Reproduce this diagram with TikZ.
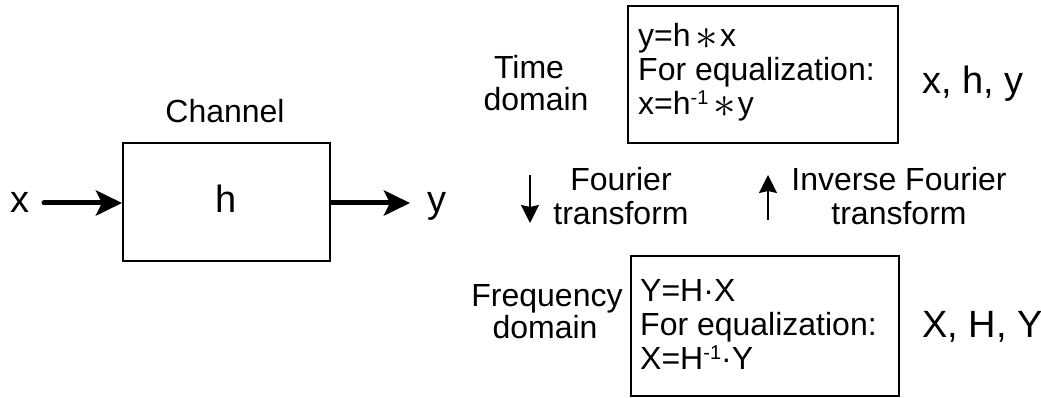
\documentclass[tikz,border=0pt]{standalone}
\usepackage{fix-cm}
\usepackage{fontspec}
\setmainfont{Liberation Sans}
\usetikzlibrary{arrows.meta}

% centred convolution star and a small raised "-1"
\newcommand{\convstar}{\hspace{5pt}\smash{\raisebox{-3pt}{\fontsize{45}{45}\selectfont$\ast$}}\hspace{2pt}}
\newcommand{\invexp}{\smash{\raisebox{10pt}{\fontsize{20}{20}\selectfont -1}}}

\begin{document}
\begin{tikzpicture}[x=1pt,y=-1pt,
  txt/.style={inner sep=0pt,font=\fontsize{32}{36}\selectfont},
  big/.style={inner sep=0pt,font=\fontsize{38}{42}\selectfont},
  frame/.style={draw,line width=2pt,inner sep=0pt},
  thick arrow/.style={line width=5pt,-{Stealth[length=26pt,width=25pt,inset=6pt]}},
  thin arrow/.style={line width=1.8pt,-{Stealth[length=18pt,width=18pt,inset=2pt]}}]
\useasboundingbox (0,0) rectangle (1041,398);

% channel block
\node[frame,minimum width=207pt,minimum height=118pt] (chan) at (226.5,202) {};
\node[txt,anchor=base] (chanlbl) at (225,123) {Channel};
\node[big,anchor=base] (h) at (chan.center |- 0,212) {h};
\node[big,anchor=base] (xin) at (20,212) {x};
\node[big,anchor=base] (yout) at (437,212) {y};
\coordinate (xs) at (44,203);
\coordinate (ye) at (410,203);
\draw[thick arrow,line cap=round] (xs) -- (chan.west |- xs);
\draw[thick arrow] (chan.east |- ye) -- (ye);

% time domain block
\node[frame,minimum width=270pt,minimum height=137pt] (tbox) at (763,74.5) {};
\node[txt,anchor=base west] (t1) at (638,47) {y=h\convstar x};
\node[txt,anchor=base west] (t2) at (638,81) {For equalization:};
\node[txt,anchor=base west] (t3) at (638,115) {x=h\invexp\convstar y};
\node[txt,anchor=base] (time1) at (529,79) {Time};
\node[txt,anchor=base] (time2) at (536,111) {domain};
\node[big,anchor=base west] (tvars) at (922,94) {x, h, y};

% frequency domain block
\node[frame,minimum width=268pt,minimum height=140pt] (fbox) at (764.5,326) {};
\node[txt,anchor=base west] (f1) at (640,301) {Y=H·X};
\node[txt,anchor=base west] (f2) at (640,335) {For equalization:};
\node[txt,anchor=base west] (f3) at (640,369) {X=H\invexp·Y};
\node[txt,anchor=base] (freq1) at (547,306) {Frequency};
\node[txt,anchor=base] (freq2) at (545,338) {domain};
\node[big,anchor=base west] (fvars) at (922,337) {X, H, Y};

% transforms between the domains
\node[txt,anchor=base] (ft1) at (621,191) {Fourier};
\node[txt,anchor=base] (ft2) at (621,224) {transform};
\node[txt,anchor=base] (ift1) at (899,191) {Inverse Fourier};
\node[txt,anchor=base] (ift2) at (899,224) {transform};
\coordinate (dtop) at (530,175);
\coordinate (dbot) at (530,223);
\coordinate (ubot) at (768,220);
\coordinate (utop) at (768,175);
\draw[thin arrow] (dtop) -- (dbot);
\draw[thin arrow] (ubot) -- (utop);
\end{tikzpicture}
\end{document}
